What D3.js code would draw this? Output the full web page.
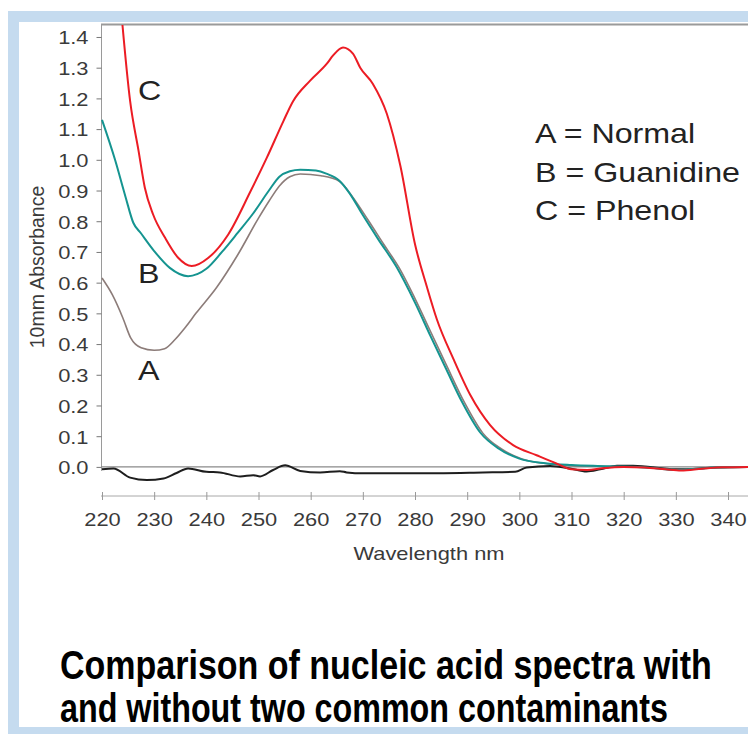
<!DOCTYPE html>
<html>
<head>
<meta charset="utf-8">
<script src="https://cdn.jsdelivr.net/npm/d3@7"></script>
<style>
  body { margin: 0; background: #fff; }
  svg { display: block; }
  text { font-family: "Liberation Sans", Arial, Helvetica, sans-serif; }
</style>
</head>
<body>
<div id="chart"></div>
<script>
// wavelength (nm) / absorbance
var wlA = [220, 222, 224, 225.5, 227.5, 230, 232, 234, 236, 238, 242, 246, 250, 252, 254, 256, 258, 262, 265.5, 268,
           271, 274, 277, 280, 283, 286, 289.5, 293, 296.5, 300.5, 305, 310, 315, 320, 325, 330, 335, 340, 344];
var absA = [0.615, 0.56, 0.485, 0.42, 0.388, 0.38, 0.385, 0.415, 0.455, 0.50, 0.585, 0.69, 0.81, 0.865, 0.915, 0.945, 0.954, 0.948, 0.93, 0.88,
            0.804, 0.725, 0.647, 0.548, 0.44, 0.332, 0.209, 0.11, 0.059, 0.026, 0.011, 0.004, 0.002, 0.0, -0.003, -0.01, -0.005, 0.0, 0.0];

var wlB = [220, 222.5, 224.5, 226, 227.5, 230, 233, 236.5, 240, 243, 246, 249, 252, 254, 256, 258, 261, 263, 265.5, 267.5,
           270, 273, 276.5, 280, 283, 286, 289, 292.5, 296, 300, 305, 310, 315, 320, 325, 330, 335, 340, 344];
var absB = [1.13, 1.0, 0.88, 0.795, 0.76, 0.703, 0.648, 0.621, 0.645, 0.70, 0.762, 0.826, 0.90, 0.945, 0.963, 0.968, 0.965, 0.955, 0.932, 0.89,
            0.82, 0.74, 0.65, 0.535, 0.425, 0.318, 0.212, 0.112, 0.06, 0.027, 0.012, 0.006, 0.003, 0.001, -0.003, -0.01, -0.005, 0.0, 0.0];

var wlC = [223.6, 225.4, 227, 228.2, 229.8, 232.1, 234.6, 237.2, 240.4, 244.2, 248.4, 251.6, 254.8, 256.6, 259.9, 263.1, 264.3, 266.2, 268.1, 269.5,
           271.9, 274.6, 277.2, 280, 282.3, 284.2, 287.4, 290.6, 294.4, 298.8, 303.3, 307.1, 310, 313, 316, 320, 324, 328, 331, 335, 339, 344];
var absC = [1.5, 1.19, 1.03, 0.91, 0.822, 0.746, 0.681, 0.654, 0.681, 0.757, 0.895, 1.007, 1.127, 1.19, 1.258, 1.313, 1.34, 1.366, 1.346, 1.30,
            1.248, 1.15, 0.98, 0.725, 0.585, 0.48, 0.35, 0.234, 0.136, 0.071, 0.038, 0.011, -0.008, -0.01, -0.004, 0.0, -0.002, -0.008, -0.012, -0.006, -0.001, 0.0];

// unlabelled black trace near zero
var wlK = [220, 222.2, 225.4, 228.6, 231.8, 234.3, 236.5, 240, 242.6, 246.5, 249, 250.3, 252.8, 255.1, 258, 261.8, 265.6, 266.9, 270.1, 279.6,
           293, 299.2, 301.4, 305.9, 309.7, 312.9, 315.5, 318.7, 321.8, 330, 338, 344];
var absK = [-0.008, -0.005, -0.035, -0.043, -0.038, -0.02, -0.005, -0.016, -0.018, -0.031, -0.027, -0.031, -0.01, 0.005, -0.013, -0.018, -0.014, -0.018, -0.021, -0.021,
            -0.018, -0.016, -0.002, 0.003, -0.005, -0.015, -0.008, 0.004, 0.004, -0.008, -0.002, 0.0];

var xTicks = [220, 230, 240, 250, 260, 270, 280, 290, 300, 310, 320, 330, 340];
var yTicks = [0.0, 0.1, 0.2, 0.3, 0.4, 0.5, 0.6, 0.7, 0.8, 0.9, 1.0, 1.1, 1.2, 1.3, 1.4];
var legendLines = ["A = Normal", "B = Guanidine", "C = Phenol"];
var curveLabels = ["C", "B", "A"];
var titleLines = ["Comparison of nucleic acid spectra with", "and without two common contaminants"];

var width = 748, height = 734;
var stretchK = 1.15; // the picture is a bit wider than the font

function stretch(sel, k) {
    sel.each(function () {
        var w = this.getComputedTextLength();
        d3.select(this).attr('textLength', w * k).attr('lengthAdjust', 'spacingAndGlyphs');
    });
}

var svg = d3.select('#chart').append('svg')
    .attr('width', width)
    .attr('height', height);

// light blue frame
var frame = '#c5dbef';
svg.append('rect').attr('x', 8).attr('y', 11).attr('width', width - 8).attr('height', 11).attr('fill', frame);
svg.append('rect').attr('x', 8).attr('y', 11).attr('width', 11).attr('height', height - 11).attr('fill', frame);
svg.append('rect').attr('x', 8).attr('y', 727).attr('width', width - 8).attr('height', 7).attr('fill', frame);

var x = d3.scaleLinear().domain([220, 343.83]).range([102, 748]);
var y = d3.scaleLinear().domain([-0.0915, 1.439]).range([495, 25]);

// plot frame
svg.append('line').attr('x1', 101).attr('x2', width).attr('y1', 24.5).attr('y2', 24.5)
    .attr('stroke', '#9a9a9a').attr('stroke-width', 2);

// y axis
var yAxis = svg.append('g')
    .attr('transform', 'translate(101.5,0)')
    .call(d3.axisLeft(y).tickValues(yTicks).tickFormat(d3.format('.1f')).tickSizeInner(5).tickSizeOuter(0).tickPadding(8));
yAxis.select('.domain').attr('d', 'M0,' + y(1.439) + 'V' + (y(0) + 4)).attr('stroke', '#9a9a9a');
yAxis.selectAll('.tick line').attr('stroke', '#777');
yAxis.selectAll('.tick text')
    .attr('fill', '#3a3a3a').style('font-size', '19px').attr('dy', '0.36em');
stretch(yAxis.selectAll('.tick text'), stretchK);

// x axis
var xAxis = svg.append('g')
    .attr('transform', 'translate(0,496)')
    .call(d3.axisBottom(x).tickValues(xTicks).tickFormat(d3.format('d')).tickSizeOuter(0));
xAxis.select('.domain').attr('d', 'M101,0H' + width).attr('stroke', '#a8a8a8');
xAxis.selectAll('.tick line').attr('y1', -4).attr('y2', 4).attr('stroke', '#999');
xAxis.selectAll('.tick text')
    .attr('y', 30).attr('dy', 0)
    .attr('fill', '#3a3a3a').style('font-size', '19px');
stretch(xAxis.selectAll('.tick text'), stretchK);

// axis titles
var xTitle = svg.append('text')
    .attr('x', 429).attr('y', 560)
    .attr('text-anchor', 'middle')
    .attr('fill', '#3a3a3a').style('font-size', '19px')
    .text('Wavelength nm');
stretch(xTitle, stretchK);

svg.append('text')
    .attr('transform', 'translate(44,267) rotate(-90)')
    .attr('text-anchor', 'middle')
    .attr('fill', '#3a3a3a').style('font-size', '19.5px')
    .text('10mm Absorbance');

// zero line
svg.append('line')
    .attr('x1', 101).attr('x2', width)
    .attr('y1', y(0)).attr('y2', y(0))
    .attr('stroke', '#8a8a8a').attr('stroke-width', 1.2);

svg.append('clipPath').attr('id', 'plotclip')
    .append('rect').attr('x', 101).attr('y', 25).attr('width', width - 101).attr('height', 470);

var line = d3.line()
    .x(function (d) { return x(d[0]); })
    .y(function (d) { return y(d[1]); })
    .curve(d3.curveMonotoneX);

function pairs(w, a) { return w.map(function (v, i) { return [v, a[i]]; }); }

var series = [
    { data: pairs(wlK, absK), color: '#1e1e1e', width: 2 },
    { data: pairs(wlA, absA), color: '#8c7c79', width: 1.6 },
    { data: pairs(wlB, absB), color: '#159490', width: 2 },
    { data: pairs(wlC, absC), color: '#ec1c24', width: 2 }
];

var plot = svg.append('g').attr('clip-path', 'url(#plotclip)');
plot.selectAll('path')
    .data(series)
    .enter()
    .append('path')
    .attr('d', function (d) { return line(d.data); })
    .attr('fill', 'none')
    .attr('stroke', function (d) { return d.color; })
    .attr('stroke-width', function (d) { return d.width; })
    .attr('stroke-linejoin', 'round');

// curve letters
var letterPos = [[138, 100], [138, 283], [138, 380]];
var letters = svg.selectAll('.curve-label')
    .data(curveLabels)
    .enter()
    .append('text')
    .attr('class', 'curve-label')
    .attr('x', function (d, i) { return letterPos[i][0]; })
    .attr('y', function (d, i) { return letterPos[i][1]; })
    .attr('fill', '#222').style('font-size', '28px')
    .text(function (d) { return d; });
stretch(letters, stretchK);

// legend text
var legend = svg.selectAll('.legend')
    .data(legendLines)
    .enter()
    .append('text')
    .attr('class', 'legend')
    .attr('x', 535)
    .attr('y', function (d, i) { return 143 + i * 38.5; })
    .attr('fill', '#222').style('font-size', '28px')
    .text(function (d) { return d; });
stretch(legend, stretchK);

// caption, squeezed to the width it has in the picture
var titleWidths = [652, 608];
svg.selectAll('.title')
    .data(titleLines)
    .enter()
    .append('text')
    .attr('class', 'title')
    .attr('fill', '#000')
    .style('font-family', '"Liberation Sans Narrow", "Liberation Sans", Arial, sans-serif')
    .style('font-weight', 'bold')
    .style('font-size', '41px')
    .text(function (d) { return d; })
    .each(function (d, i) {
        var sx = titleWidths[i] / this.getComputedTextLength();
        d3.select(this).attr('transform', 'translate(60,' + (679 + i * 43) + ') scale(' + sx + ',1)');
    });
</script>
</body>
</html>
